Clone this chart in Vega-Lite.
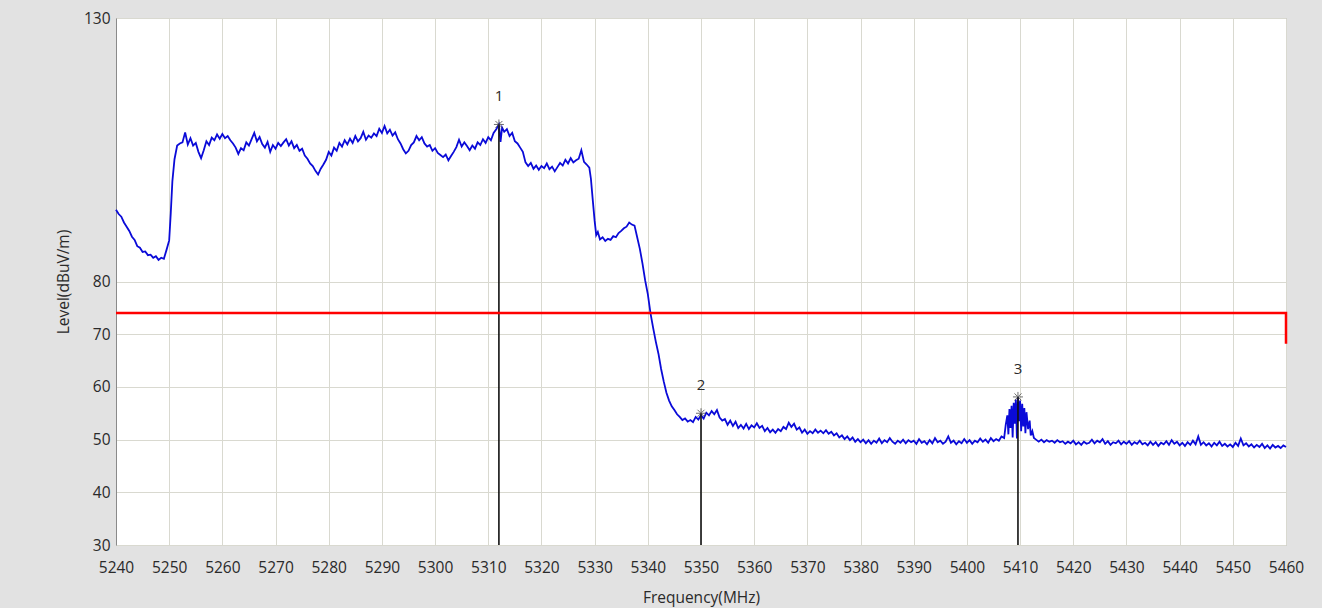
{
  "$schema": "https://vega.github.io/schema/vega-lite/v6.json",
  "width": 1170,
  "height": 527,
  "autosize": {"type": "none"},
  "padding": {"left": 116, "top": 18, "right": 36, "bottom": 63},
  "background": "#e2e2e2",
  "config": {
    "font": "Open Sans",
    "view": {"fill": "#ffffff", "stroke": "#a8a8a8", "strokeWidth": 1},
    "axis": {"labelFont": "Open Sans", "titleFont": "Open Sans", "labelColor": "#2a2a2a", "titleColor": "#2a2a2a", "titleFontWeight": "normal", "gridColor": "#d9d9d0", "gridOpacity": 1, "gridWidth": 1, "ticks": false, "domainColor": "#8a8a8a"}
  },
  "datasets": {
    "trace": [
      {"f":5240,"v":93.6},{"f":5240.5,"v":92.8},{"f":5241,"v":92.3},{"f":5241.5,"v":91.2},{"f":5242,"v":90.4},{"f":5242.5,"v":89.6},{"f":5243,"v":88.5},{"f":5243.5,"v":87.9},{"f":5244,"v":86.7},{"f":5244.5,"v":86.4},{"f":5245,"v":85.6},{"f":5245.5,"v":85.7},{"f":5246,"v":85.0},{"f":5246.5,"v":85.1},{"f":5247,"v":84.5},{"f":5247.5,"v":84.8},{"f":5248,"v":84.1},{"f":5248.5,"v":84.5},{"f":5249,"v":84.3},{"f":5249.5,"v":86.0},{"f":5250,"v":87.8},{"f":5250.3,"v":93},{"f":5250.6,"v":99},{"f":5251,"v":103.2},{"f":5251.5,"v":105.8},{"f":5252,"v":106.2},{"f":5252.5,"v":106.4},{"f":5253,"v":108.3},{"f":5253.5,"v":106.0},{"f":5254,"v":107.2},{"f":5254.5,"v":105.8},{"f":5255,"v":106.3},{"f":5255.5,"v":104.6},{"f":5256,"v":103.4},{"f":5256.5,"v":104.9},{"f":5257,"v":106.6},{"f":5257.5,"v":105.9},{"f":5258,"v":107.3},{"f":5258.5,"v":106.8},{"f":5259,"v":107.9},{"f":5259.5,"v":107.1},{"f":5260,"v":108.0},{"f":5260.5,"v":107.2},{"f":5261,"v":107.6},{"f":5261.5,"v":106.8},{"f":5262,"v":106.2},{"f":5262.5,"v":105.4},{"f":5263,"v":104.2},{"f":5263.5,"v":105.3},{"f":5264,"v":104.9},{"f":5264.5,"v":106.4},{"f":5265,"v":105.8},{"f":5265.5,"v":107.0},{"f":5266,"v":108.2},{"f":5266.5,"v":106.6},{"f":5267,"v":107.4},{"f":5267.5,"v":106.1},{"f":5268,"v":105.4},{"f":5268.5,"v":106.5},{"f":5269,"v":104.6},{"f":5269.5,"v":105.9},{"f":5270,"v":105.2},{"f":5270.5,"v":106.3},{"f":5271,"v":105.7},{"f":5271.5,"v":106.4},{"f":5272,"v":107.0},{"f":5272.5,"v":105.8},{"f":5273,"v":106.6},{"f":5273.5,"v":105.3},{"f":5274,"v":105.9},{"f":5274.5,"v":104.8},{"f":5275,"v":105.2},{"f":5275.5,"v":103.9},{"f":5276,"v":103.3},{"f":5276.5,"v":102.4},{"f":5277,"v":101.9},{"f":5277.5,"v":101.0},{"f":5278,"v":100.3},{"f":5278.5,"v":101.4},{"f":5279,"v":102.2},{"f":5279.5,"v":103.1},{"f":5280,"v":104.6},{"f":5280.5,"v":103.9},{"f":5281,"v":105.4},{"f":5281.5,"v":104.8},{"f":5282,"v":106.3},{"f":5282.5,"v":105.6},{"f":5283,"v":106.8},{"f":5283.5,"v":106.0},{"f":5284,"v":107.1},{"f":5284.5,"v":106.3},{"f":5285,"v":107.6},{"f":5285.5,"v":106.6},{"f":5286,"v":107.2},{"f":5286.5,"v":108.4},{"f":5287,"v":106.9},{"f":5287.5,"v":107.7},{"f":5288,"v":107.3},{"f":5288.5,"v":108.1},{"f":5289,"v":107.6},{"f":5289.5,"v":109.0},{"f":5290,"v":108.2},{"f":5290.5,"v":109.5},{"f":5291,"v":108.1},{"f":5291.5,"v":108.8},{"f":5292,"v":107.7},{"f":5292.5,"v":108.3},{"f":5293,"v":107.0},{"f":5293.5,"v":106.2},{"f":5294,"v":105.1},{"f":5294.5,"v":104.3},{"f":5295,"v":104.8},{"f":5295.5,"v":105.9},{"f":5296,"v":106.4},{"f":5296.5,"v":107.6},{"f":5297,"v":106.8},{"f":5297.5,"v":107.4},{"f":5298,"v":106.2},{"f":5298.5,"v":105.6},{"f":5299,"v":105.9},{"f":5299.5,"v":104.8},{"f":5300,"v":105.3},{"f":5300.5,"v":104.4},{"f":5301,"v":104.0},{"f":5301.5,"v":103.6},{"f":5302,"v":104.1},{"f":5302.5,"v":103.0},{"f":5303,"v":103.8},{"f":5303.5,"v":104.6},{"f":5304,"v":105.5},{"f":5304.5,"v":106.9},{"f":5305,"v":105.6},{"f":5305.5,"v":106.4},{"f":5306,"v":105.7},{"f":5306.5,"v":104.9},{"f":5307,"v":105.8},{"f":5307.5,"v":105.2},{"f":5308,"v":106.4},{"f":5308.5,"v":105.9},{"f":5309,"v":107.0},{"f":5309.5,"v":106.3},{"f":5310,"v":107.4},{"f":5310.5,"v":106.8},{"f":5311,"v":108.2},{"f":5311.5,"v":108.9},{"f":5312,"v":109.8},{"f":5312.3,"v":106.5},{"f":5312.6,"v":109.2},{"f":5313,"v":108.4},{"f":5313.5,"v":108.9},{"f":5314,"v":107.6},{"f":5314.5,"v":108.2},{"f":5315,"v":106.6},{"f":5315.5,"v":106.2},{"f":5316,"v":105.4},{"f":5316.5,"v":104.6},{"f":5317,"v":102.6},{"f":5317.5,"v":101.9},{"f":5318,"v":102.5},{"f":5318.5,"v":101.4},{"f":5319,"v":102.0},{"f":5319.5,"v":101.2},{"f":5320,"v":101.9},{"f":5320.5,"v":101.5},{"f":5321,"v":102.4},{"f":5321.5,"v":101.3},{"f":5322,"v":101.8},{"f":5322.5,"v":100.9},{"f":5323,"v":101.7},{"f":5323.5,"v":102.5},{"f":5324,"v":102.0},{"f":5324.5,"v":103.1},{"f":5325,"v":102.4},{"f":5325.5,"v":103.4},{"f":5326,"v":102.6},{"f":5326.5,"v":103.0},{"f":5327,"v":103.3},{"f":5327.5,"v":104.9},{"f":5328,"v":102.7},{"f":5328.5,"v":102.2},{"f":5329,"v":101.6},{"f":5329.3,"v":99.5},{"f":5329.6,"v":96.0},{"f":5330,"v":91.5},{"f":5330.3,"v":88.8},{"f":5330.6,"v":89.4},{"f":5331,"v":88.0},{"f":5331.5,"v":88.4},{"f":5332,"v":87.7},{"f":5332.5,"v":88.1},{"f":5333,"v":87.9},{"f":5333.5,"v":88.6},{"f":5334,"v":88.4},{"f":5334.5,"v":89.2},{"f":5335,"v":89.6},{"f":5335.5,"v":90.1},{"f":5336,"v":90.4},{"f":5336.5,"v":91.2},{"f":5337,"v":90.8},{"f":5337.5,"v":90.6},{"f":5338,"v":88.4},{"f":5338.5,"v":86.2},{"f":5339,"v":83.4},{"f":5339.5,"v":80.2},{"f":5340,"v":77.6},{"f":5340.5,"v":74.0},{"f":5341,"v":71.2},{"f":5341.5,"v":68.6},{"f":5342,"v":66.3},{"f":5342.5,"v":63.4},{"f":5343,"v":61.0},{"f":5343.5,"v":58.9},{"f":5344,"v":57.4},{"f":5344.5,"v":56.3},{"f":5345,"v":55.6},{"f":5345.5,"v":54.8},{"f":5346,"v":54.3},{"f":5346.5,"v":53.7},{"f":5347,"v":54.0},{"f":5347.5,"v":53.4},{"f":5348,"v":53.7},{"f":5348.5,"v":53.3},{"f":5349,"v":54.3},{"f":5349.5,"v":53.8},{"f":5350,"v":54.6},{"f":5350.5,"v":54.0},{"f":5351,"v":55.1},{"f":5351.5,"v":54.6},{"f":5352,"v":55.4},{"f":5352.5,"v":54.8},{"f":5353,"v":55.6},{"f":5353.5,"v":54.2},{"f":5354,"v":53.6},{"f":5354.5,"v":53.9},{"f":5355,"v":52.8},{"f":5355.5,"v":53.6},{"f":5356,"v":52.6},{"f":5356.5,"v":53.4},{"f":5357,"v":52.2},{"f":5357.5,"v":52.8},{"f":5358,"v":52.1},{"f":5358.5,"v":53.0},{"f":5359,"v":52.0},{"f":5359.5,"v":52.7},{"f":5360,"v":52.3},{"f":5360.5,"v":53.1},{"f":5361,"v":52.2},{"f":5361.5,"v":52.6},{"f":5362,"v":51.6},{"f":5362.5,"v":52.2},{"f":5363,"v":51.4},{"f":5363.5,"v":51.9},{"f":5364,"v":51.3},{"f":5364.5,"v":52.0},{"f":5365,"v":51.6},{"f":5365.5,"v":52.4},{"f":5366,"v":52.0},{"f":5366.5,"v":53.2},{"f":5367,"v":52.4},{"f":5367.5,"v":53.0},{"f":5368,"v":51.9},{"f":5368.5,"v":52.3},{"f":5369,"v":51.3},{"f":5369.5,"v":51.9},{"f":5370,"v":51.1},{"f":5370.5,"v":51.6},{"f":5371,"v":51.2},{"f":5371.5,"v":51.9},{"f":5372,"v":51.3},{"f":5372.5,"v":51.7},{"f":5373,"v":51.2},{"f":5373.5,"v":51.8},{"f":5374,"v":51.1},{"f":5374.5,"v":51.5},{"f":5375,"v":50.8},{"f":5375.5,"v":51.2},{"f":5376,"v":50.4},{"f":5376.5,"v":50.8},{"f":5377,"v":50.1},{"f":5377.5,"v":50.6},{"f":5378,"v":49.9},{"f":5378.5,"v":50.4},{"f":5379,"v":49.6},{"f":5379.5,"v":50.1},{"f":5380,"v":49.5},{"f":5380.5,"v":50.0},{"f":5381,"v":49.3},{"f":5381.5,"v":49.9},{"f":5382,"v":49.2},{"f":5382.5,"v":49.8},{"f":5383,"v":49.4},{"f":5383.5,"v":50.2},{"f":5384,"v":49.3},{"f":5384.5,"v":49.9},{"f":5385,"v":49.5},{"f":5385.5,"v":50.3},{"f":5386,"v":49.6},{"f":5386.5,"v":49.2},{"f":5387,"v":49.8},{"f":5387.5,"v":49.4},{"f":5388,"v":50.0},{"f":5388.5,"v":49.3},{"f":5389,"v":49.9},{"f":5389.5,"v":49.5},{"f":5390,"v":49.8},{"f":5390.5,"v":49.2},{"f":5391,"v":50.1},{"f":5391.5,"v":49.4},{"f":5392,"v":49.7},{"f":5392.5,"v":49.1},{"f":5393,"v":49.9},{"f":5393.5,"v":49.3},{"f":5394,"v":50.3},{"f":5394.5,"v":49.5},{"f":5395,"v":49.8},{"f":5395.5,"v":49.2},{"f":5396,"v":49.6},{"f":5396.5,"v":50.6},{"f":5397,"v":49.4},{"f":5397.5,"v":49.8},{"f":5398,"v":49.1},{"f":5398.5,"v":49.7},{"f":5399,"v":49.3},{"f":5399.5,"v":50.1},{"f":5400,"v":49.4},{"f":5400.5,"v":49.9},{"f":5401,"v":49.2},{"f":5401.5,"v":49.8},{"f":5402,"v":49.5},{"f":5402.5,"v":50.2},{"f":5403,"v":49.6},{"f":5403.5,"v":50.0},{"f":5404,"v":49.4},{"f":5404.5,"v":50.3},{"f":5405,"v":49.7},{"f":5405.5,"v":50.1},{"f":5406,"v":49.8},{"f":5406.5,"v":50.6},{"f":5407,"v":50.3},{"f":5407.3,"v":52.8},{"f":5407.6,"v":54.6},{"f":5407.8,"v":51.0},{"f":5408,"v":55.8},{"f":5408.2,"v":52.2},{"f":5408.4,"v":56.4},{"f":5408.6,"v":50.4},{"f":5408.8,"v":57.0},{"f":5409,"v":53.0},{"f":5409.2,"v":57.6},{"f":5409.4,"v":50.2},{"f":5409.6,"v":58.1},{"f":5409.8,"v":53.5},{"f":5410,"v":57.4},{"f":5410.2,"v":51.6},{"f":5410.4,"v":56.8},{"f":5410.6,"v":52.5},{"f":5410.8,"v":56.0},{"f":5411,"v":51.2},{"f":5411.2,"v":55.2},{"f":5411.5,"v":52.0},{"f":5411.8,"v":53.6},{"f":5412,"v":50.8},{"f":5412.3,"v":51.6},{"f":5412.6,"v":50.3},{"f":5413,"v":50.0},{"f":5413.5,"v":49.6},{"f":5414,"v":50.0},{"f":5414.5,"v":49.5},{"f":5415,"v":49.9},{"f":5415.5,"v":49.6},{"f":5416,"v":49.8},{"f":5416.5,"v":49.4},{"f":5417,"v":49.9},{"f":5417.5,"v":49.5},{"f":5418,"v":49.7},{"f":5418.5,"v":49.2},{"f":5419,"v":49.6},{"f":5419.5,"v":49.3},{"f":5420,"v":49.8},{"f":5420.5,"v":49.1},{"f":5421,"v":49.5},{"f":5421.5,"v":49.0},{"f":5422,"v":49.6},{"f":5422.5,"v":49.2},{"f":5423,"v":49.4},{"f":5423.5,"v":50.0},{"f":5424,"v":49.3},{"f":5424.5,"v":49.8},{"f":5425,"v":49.5},{"f":5425.5,"v":50.1},{"f":5426,"v":49.2},{"f":5426.5,"v":49.7},{"f":5427,"v":49.0},{"f":5427.5,"v":49.5},{"f":5428,"v":49.3},{"f":5428.5,"v":49.8},{"f":5429,"v":49.1},{"f":5429.5,"v":49.6},{"f":5430,"v":49.2},{"f":5430.5,"v":49.7},{"f":5431,"v":49.0},{"f":5431.5,"v":49.5},{"f":5432,"v":49.2},{"f":5432.5,"v":49.8},{"f":5433,"v":49.1},{"f":5433.5,"v":49.4},{"f":5434,"v":48.9},{"f":5434.5,"v":49.6},{"f":5435,"v":49.0},{"f":5435.5,"v":49.5},{"f":5436,"v":48.8},{"f":5436.5,"v":49.4},{"f":5437,"v":49.1},{"f":5437.5,"v":49.7},{"f":5438,"v":49.0},{"f":5438.5,"v":49.9},{"f":5439,"v":49.2},{"f":5439.5,"v":49.6},{"f":5440,"v":48.9},{"f":5440.5,"v":49.4},{"f":5441,"v":48.8},{"f":5441.5,"v":49.5},{"f":5442,"v":49.0},{"f":5442.5,"v":49.8},{"f":5443,"v":49.1},{"f":5443.5,"v":50.6},{"f":5444,"v":49.0},{"f":5444.5,"v":49.5},{"f":5445,"v":48.9},{"f":5445.5,"v":49.3},{"f":5446,"v":48.7},{"f":5446.5,"v":49.4},{"f":5447,"v":48.9},{"f":5447.5,"v":49.6},{"f":5448,"v":48.8},{"f":5448.5,"v":49.2},{"f":5449,"v":48.7},{"f":5449.5,"v":49.1},{"f":5450,"v":48.6},{"f":5450.5,"v":49.4},{"f":5451,"v":48.8},{"f":5451.5,"v":50.2},{"f":5452,"v":48.9},{"f":5452.5,"v":49.3},{"f":5453,"v":48.7},{"f":5453.5,"v":49.1},{"f":5454,"v":48.5},{"f":5454.5,"v":49.0},{"f":5455,"v":48.6},{"f":5455.5,"v":49.2},{"f":5456,"v":48.4},{"f":5456.5,"v":48.9},{"f":5457,"v":48.3},{"f":5457.5,"v":49.0},{"f":5458,"v":48.5},{"f":5458.5,"v":48.8},{"f":5459,"v":48.4},{"f":5459.5,"v":48.9},{"f":5460,"v":48.6}
    ],
    "limit": [
      {"f":5240,"v":74,"o":1},{"f":5460,"v":74,"o":2},{"f":5460,"v":68.2,"o":3}
    ],
    "markers": [
      {"f":5312,"v":109.8,"id":"1"},
      {"f":5350,"v":55.0,"id":"2"},
      {"f":5409.6,"v":58.1,"id":"3"}
    ]
  },
  "encoding": {
    "x": {"field": "f", "type": "quantitative",
      "scale": {"domain": [5240, 5460], "nice": false, "zero": false},
      "axis": {"title": "Frequency(MHz)", "values": [5240,5250,5260,5270,5280,5290,5300,5310,5320,5330,5340,5350,5360,5370,5380,5390,5400,5410,5420,5430,5440,5450,5460], "format": "d", "labelFlush": false, "labelFontSize": 15.5, "labelPadding": 15, "titleFontSize": 15.5, "titlePadding": 15, "domain": false, "labelOverlap": false}},
    "y": {"field": "v", "type": "quantitative",
      "scale": {"domain": [30, 130], "nice": false, "zero": false},
      "axis": {"title": "Level(dBuV/m)", "values": [30,40,50,60,70,80,130], "labelFontSize": 15.5, "labelPadding": 6, "titleFontSize": 15.5, "titlePadding": 12, "domain": true, "labelFlush": false, "labelOverlap": false}}
  },
  "layer": [
    {"data": {"name": "trace"}, "mark": {"type": "line", "color": "#0a0ad8", "strokeWidth": 1.8, "strokeJoin": "miter"}},
    {"data": {"name": "markers"}, "mark": {"type": "rule", "color": "#111111", "strokeWidth": 1.6}, "encoding": {"y2": {"datum": 30}}},
    {"data": {"name": "limit"}, "mark": {"type": "line", "color": "#ff0000", "strokeWidth": 2.5, "strokeJoin": "miter"}, "encoding": {"order": {"field": "o", "type": "quantitative"}}},
    {"data": {"name": "markers"}, "mark": {"type": "point", "shape": "M-1,0L1,0M0,-1L0,1M-0.7,-0.7L0.7,0.7M-0.7,0.7L0.7,-0.7", "filled": false, "size": 100, "stroke": "#333333", "strokeWidth": 1}},
    {"data": {"name": "markers"}, "mark": {"type": "text", "dy": -28, "fontSize": 15, "color": "#2a2a2a", "font": "Open Sans"}, "encoding": {"text": {"field": "id"}}}
  ]
}
